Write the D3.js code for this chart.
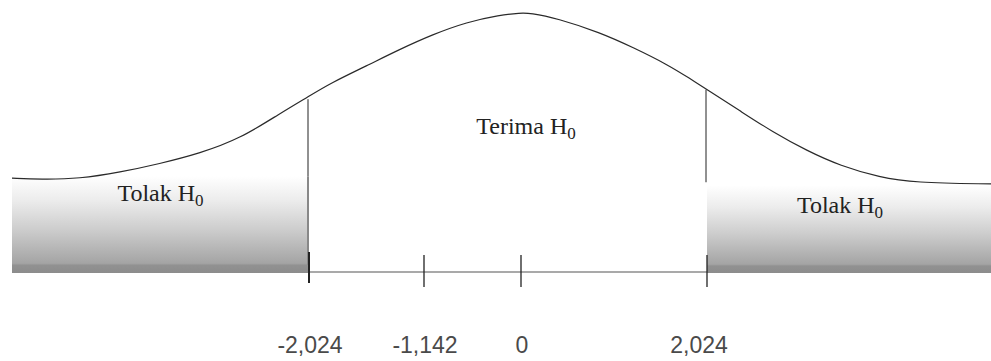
<!DOCTYPE html>
<html>
<head>
<meta charset="utf-8">
<script src="https://cdn.jsdelivr.net/npm/d3@7"></script>
<style>
  html, body { margin: 0; padding: 0; background: #fff; }
  svg { display: block; }
  .tick-label { font-family: "Liberation Sans", Arial, sans-serif; font-size: 23px; fill: #4a4a4a; }
  .area-label { font-family: "Liberation Serif", "Times New Roman", serif; font-size: 24px; fill: #222; }
</style>
</head>
<body>
<div id="chart"></div>
<script>
//data
const tickValues = [-2.024, -1.142, 0, 2.024];
const tickLabels = ["-2,024", "-1,142", "0", "2,024"];

// curve: z value, height
const curveZ = [-4, -3.81, -3.55, -3.28, -3.02, -2.75, -2.48, -2.22, -2.024, -1.86, -1.58, -1.33,
  -1.04, -0.64, -0.25, -0.01, 0.1, 0.39, 0.86, 1.22, 1.59, 1.84, 2.024, 2.25, 2.48, 2.72, 2.95,
  3.23, 3.46, 4];
const curveH = [0.146, 0.144, 0.145, 0.155, 0.168, 0.184, 0.207, 0.245, 0.272, 0.292, 0.319, 0.344,
  0.367, 0.386, 0.397, 0.4, 0.4, 0.392, 0.37, 0.347, 0.321, 0.299, 0.282, 0.25, 0.217, 0.188, 0.165,
  0.147, 0.139, 0.137];

// rejection regions
const regionFrom = [-4, 2.024];
const regionTo = [-2.024, 4];
const regionTop = [0.149, 0.135];
const regionLabels = ["Tolak H", "Tolak H"];
const acceptLabel = "Terima H";

//size
const width = 991, height = 361;

//scale (the drawing is not to scale, so x is piecewise)
const xScale = d3
  .scaleLinear()
  .domain([-4, -2.024, -1.142, 0, 2.024, 4])
  .range([12, 309, 424, 521, 707, 991]);

const yScale = d3.scaleLinear().domain([0, 0.4]).range([273, 13]);

const curve = curveZ.map((z, i) => ({ z, h: curveH[i] }));
const curveAt = (z) => {
  const i = d3.bisector((d) => d.z).left(curve, z);
  if (i <= 0) return curve[0].h;
  const a = curve[i - 1], b = curve[i];
  return a.h + ((b.h - a.h) * (z - a.z)) / (b.z - a.z);
};

//create element
const svg = d3
  .select("#chart")
  .append("svg")
  .attr("width", width)
  .attr("height", height);

const grad = svg
  .append("defs")
  .append("linearGradient")
  .attr("id", "shade")
  .attr("x1", 0).attr("y1", 0)
  .attr("x2", 0).attr("y2", 1);
[
  [0, "#ffffff"],
  [0.25, "#ececec"],
  [0.55, "#cdcdcd"],
  [0.9, "#a4a4a4"],
  [0.92, "#919191"],
  [1, "#8c8c8c"],
].forEach(([o, c]) => grad.append("stop").attr("offset", o).attr("stop-color", c));

//shaded regions
svg
  .selectAll("rect.region")
  .data(regionFrom)
  .join("rect")
  .attr("class", "region")
  .attr("x", (d) => xScale(d))
  .attr("width", (d, i) => xScale(regionTo[i]) - xScale(d))
  .attr("y", (d, i) => yScale(regionTop[i]))
  .attr("height", (d, i) => yScale(0) - yScale(regionTop[i]))
  .attr("fill", "url(#shade)");

//curve
svg
  .append("path")
  .datum(curve)
  .attr("fill", "none")
  .attr("stroke", "#2a2a2a")
  .attr("stroke-width", 1.2)
  .attr(
    "d",
    d3
      .line()
      .curve(d3.curveBasis)
      .x((d) => xScale(d.z))
      .y((d) => yScale(d.h))
  );

//critical lines
const lo = tickValues[0], hi = tickValues[tickValues.length - 1];
svg
  .append("line")
  .attr("x1", xScale(lo) - 1).attr("x2", xScale(lo) - 1)
  .attr("y1", yScale(curveAt(lo)) + 3)
  .attr("y2", yScale(regionTop[0]))
  .attr("stroke", "#222")
  .attr("stroke-width", 1);
svg
  .append("line")
  .attr("x1", xScale(lo) - 1).attr("x2", xScale(lo) - 1)
  .attr("y1", yScale(regionTop[0]))
  .attr("y2", yScale(0) - 8)
  .attr("stroke", "#888")
  .attr("stroke-width", 2);
svg
  .append("line")
  .attr("x1", xScale(hi) - 1).attr("x2", xScale(hi) - 1)
  .attr("y1", yScale(curveAt(hi)))
  .attr("y2", yScale(regionTop[1]) - 3)
  .attr("stroke", "#222")
  .attr("stroke-width", 1);

//axis line and ticks
const axisY = yScale(0) - 1;
svg
  .append("line")
  .attr("x1", xScale(lo)).attr("x2", xScale(hi))
  .attr("y1", axisY).attr("y2", axisY)
  .attr("stroke", "#555")
  .attr("stroke-width", 1.2);

svg
  .selectAll("line.tick")
  .data(tickValues)
  .join("line")
  .attr("class", "tick")
  .attr("x1", (d) => xScale(d))
  .attr("x2", (d) => xScale(d))
  .attr("y1", (d, i) => axisY - (i === 0 ? 20 : 17))
  .attr("y2", (d, i) => axisY + (i === 0 ? 11 : 15))
  .attr("stroke", "#222")
  .attr("stroke-width", (d, i) => (i === 0 ? 2 : 1.3));

svg
  .selectAll("text.tick-label")
  .data(tickValues)
  .join("text")
  .attr("class", "tick-label")
  .attr("x", (d, i) => xScale(d) + (i === tickValues.length - 1 ? -8 : 1))
  .attr("y", 353)
  .attr("text-anchor", "middle")
  .text((d, i) => tickLabels[i]);

//labels
function subLabel(x, y, label) {
  const t = svg
    .append("text")
    .attr("class", "area-label")
    .attr("x", x)
    .attr("y", y)
    .attr("text-anchor", "middle");
  t.append("tspan").text(label);
  t.append("tspan").attr("dy", 5).attr("font-size", 17).text("0");
}

regionFrom.forEach((d, i) => {
  const cx = (xScale(d) + xScale(regionTo[i])) / 2 - (i === 1 ? 9 : 0);
  subLabel(cx, yScale(regionTop[i]) + 25 + i * 3, regionLabels[i]);
});
subLabel(xScale(0) + 5, 134, acceptLabel);
</script>
</body>
</html>
